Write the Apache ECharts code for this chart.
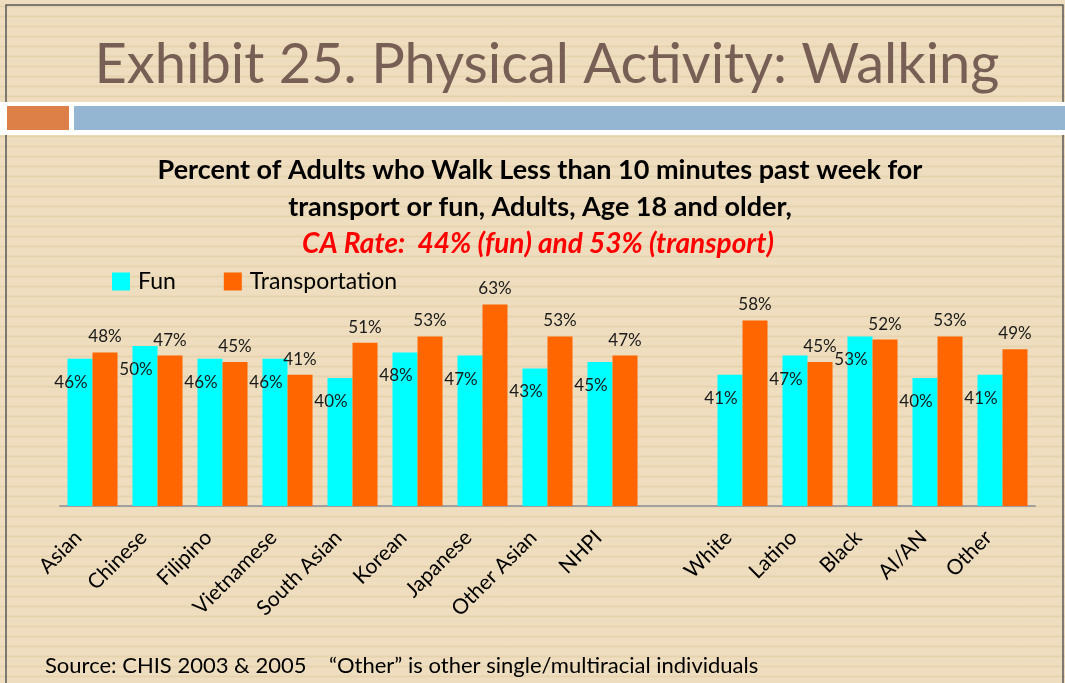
<!DOCTYPE html>
<html>
<head>
<meta charset="utf-8">
<script src="https://cdn.jsdelivr.net/npm/echarts@6/dist/echarts.min.js"></script>
<style>
  html, body { margin: 0; padding: 0; }
  body { width: 1065px; height: 683px; overflow: hidden; }
  #chart {
    width: 1065px; height: 683px;
    background-color: #EEDDBE;
    background-image: repeating-linear-gradient(180deg, rgba(214,190,140,0.0) 0px, rgba(214,190,140,0.0) 5px, rgba(214,190,140,0.3) 6px, rgba(214,190,140,0.3) 7px, rgba(214,190,140,0.0) 8px, rgba(214,190,140,0.0) 10px);
  }
</style>
</head>
<body>
<div id="chart"></div>
<script>
// ---- data ----
const categories = ['Asian', 'Chinese', 'Filipino', 'Vietnamese', 'South Asian', 'Korean', 'Japanese', 'Other Asian', 'NHPI', '', 'White', 'Latino', 'Black', 'AI/AN', 'Other'];
const funValues = [46, 50, 46, 46, 40, 48, 47, 43, 45, null, 41, 47, 53, 40, 41];
const transportValues = [48, 47, 45, 41, 51, 53, 63, 53, 47, null, 58, 45, 52, 53, 49];
const seriesNames = ['Fun', 'Transportation'];
const slideTitle = 'Exhibit 25. Physical Activity: Walking';
const chartTitleLines = ['Percent of Adults who Walk Less than 10 minutes past week for', 'transport or fun, Adults, Age 18 and older,'];
const caRateText = 'CA Rate:  44% (fun) and 53% (transport)';
const sourceText = 'Source: CHIS 2003 & 2005    \u201COther\u201D is other single/multiracial individuals';

const FONT = 'Lato, "Open Sans", sans-serif';
const chart = echarts.init(document.getElementById('chart'), null, { renderer: 'canvas' });

const option = {
  backgroundColor: 'transparent',
  animation: false,
  textStyle: { fontFamily: FONT },
  graphic: [
    { type: 'rect', shape: { x: 6, y: 5, width: 1057, height: 700 }, style: { fill: 'none', stroke: '#5a5a5a', lineWidth: 1.5 }, z: 0 },
    { type: 'rect', shape: { x: 0, y: 102, width: 1065, height: 33 }, style: { fill: '#ffffff' }, z: 1 },
    { type: 'rect', shape: { x: 7, y: 106, width: 62, height: 24 }, style: { fill: '#DD8047' }, z: 2 },
    { type: 'rect', shape: { x: 74, y: 106, width: 991, height: 24 }, style: { fill: '#94B6D2' }, z: 2 }
  ],
  title: [
    { text: slideTitle, left: 542, textAlign: 'center', top: 32, textStyle: { fontFamily: FONT, fontSize: 56, fontWeight: 'normal', color: '#775F55' } },
    { text: chartTitleLines.join('\n'), left: 535, textAlign: 'center', top: 147, textStyle: { fontFamily: FONT, fontSize: 27, fontWeight: 'bold', color: '#000000', lineHeight: 37 } },
    { text: caRateText, left: 533, textAlign: 'center', top: 225, textStyle: { fontFamily: FONT, fontSize: 28, fontWeight: 'bold', fontStyle: 'italic', color: '#FF0000' } },
    { text: sourceText, left: 40, top: 650, textStyle: { fontFamily: FONT, fontSize: 22, fontWeight: 'normal', color: '#000000' } }
  ],
  legend: {
    data: seriesNames,
    left: 112, top: 270, padding: 0,
    itemWidth: 18, itemHeight: 18, itemGap: 48,
    icon: 'rect',
    textStyle: { fontFamily: FONT, fontSize: 23, color: '#000000', padding: [0, 0, 0, 3] }
  },
  grid: { left: 60, right: 30, top: 282, bottom: 177 },
  xAxis: {
    type: 'category',
    data: categories,
    axisLine: { show: true, lineStyle: { color: '#A0A0A0', width: 2 } },
    axisTick: { show: false },
    axisLabel: { rotate: 45, margin: 14, padding: [0, 20, 0, 0], interval: 0, fontFamily: FONT, fontSize: 21, color: '#000000' }
  },
  yAxis: { type: 'value', min: 0, max: 70, show: false, splitLine: { show: false } },
  series: [
    {
      name: seriesNames[0], type: 'bar', data: funValues, barGap: '0%', barCategoryGap: '23%',
      itemStyle: { color: '#00FFFF' },
      label: { show: true, position: 'insideTop', distance: 5, offset: [-9, 10], formatter: '{c}%', fontFamily: FONT, fontSize: 17, color: '#1a1a1a' }
    },
    {
      name: seriesNames[1], type: 'bar', data: transportValues, barGap: '0%', barCategoryGap: '23%',
      itemStyle: { color: '#FF6600' },
      label: { show: true, position: 'top', distance: 7, formatter: '{c}%', fontFamily: FONT, fontSize: 17, color: '#1a1a1a' }
    }
  ]
};
chart.setOption(option);
</script>
</body>
</html>
